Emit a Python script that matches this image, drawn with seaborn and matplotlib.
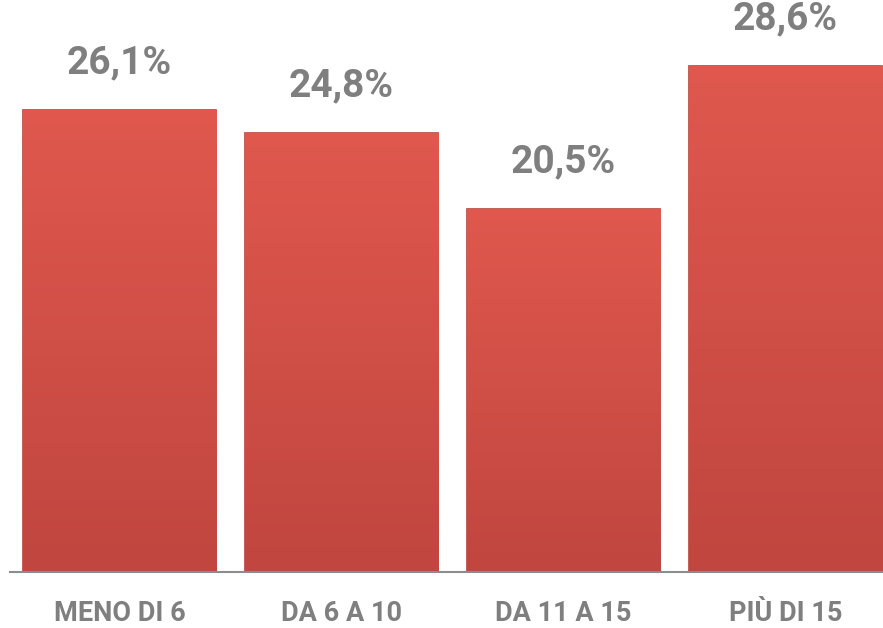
import numpy as np
import matplotlib.pyplot as plt
from matplotlib.colors import LinearSegmentedColormap
import seaborn as sns
import pandas as pd

categories = ["MENO DI 6", "DA 6 A 10", "DA 11 A 15", "PIÙ DI 15"]
values = [26.1, 24.8, 20.5, 28.6]
labels = ["26,1%", "24,8%", "20,5%", "28,6%"]

df = pd.DataFrame({"cat": categories, "val": values})

sns.set_theme(style="white")
plt.rcParams["font.family"] = ["Roboto", "DejaVu Sans"]

fig = plt.figure(figsize=(8.83, 6.28), dpi=100)
ax = fig.add_axes([10 / 883, 56 / 628, 873 / 883, 572 / 628])

sns.barplot(data=df, x="cat", y="val", ax=ax, color="#D65047",
            width=0.87, edgecolor="#B8433B", linewidth=1.2, saturation=1)

# vertical shading inside each bar (lighter top, darker bottom)
shade = LinearSegmentedColormap.from_list("shade", ["#C0463F", "#E0584E"])
grad = np.linspace(0, 1, 256).reshape(-1, 1)
for p in ax.patches:
    x0, y0 = p.get_x(), p.get_y()
    im = ax.imshow(grad, cmap=shade, origin="lower", aspect="auto",
                   extent=[x0, x0 + p.get_width(), y0, y0 + p.get_height()],
                   zorder=p.get_zorder() + 0.1)
    im.set_clip_path(p)

for i, (v, lab) in enumerate(zip(values, labels)):
    ax.text(i, v + 2.65, lab, ha="center", va="center", fontsize=28,
            fontweight="bold", color="#7F7F7F")

ax.set_xlim(-0.494, 3.44)
ax.set_ylim(0, 32.3)
ax.set_xlabel("")
ax.set_ylabel("")
ax.set_yticks([])
for s in ["top", "right", "left"]:
    ax.spines[s].set_visible(False)
ax.spines["bottom"].set_color("#8C8C8C")
ax.spines["bottom"].set_linewidth(1.5)
ax.tick_params(axis="x", length=0, pad=20)
for t in ax.get_xticklabels():
    t.set_fontsize(19.5)
    t.set_fontweight("bold")
    t.set_color("#7F7F7F")

fig.savefig("out.png", dpi=100)
